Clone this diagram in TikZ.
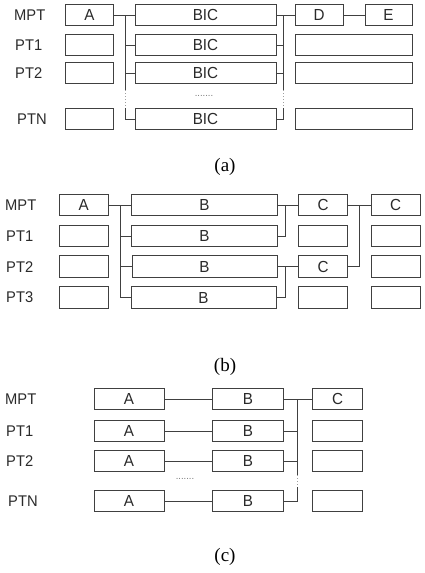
\documentclass[tikz,border=0pt]{standalone}
\usepackage{fontspec}
\setmainfont{Liberation Serif}
\newfontfamily\labfont[FakeStretch=0.95]{Liberation Sans}
\definecolor{ink}{HTML}{404040}
\definecolor{txt}{HTML}{2a2a2a}
\begin{document}
\begin{tikzpicture}[x=1pt,y=-1pt,
  box/.style={draw=ink,line width=1pt,rectangle,minimum height=21.5pt,inner sep=0pt,
    font=\labfont\fontsize{16}{16}\selectfont,text=txt},
  lab/.style={anchor=west,inner sep=0pt,font=\labfont\fontsize{15.5}{16}\selectfont,text=txt},
  captxt/.style={inner sep=0pt,font=\fontsize{19}{19}\selectfont,text=black},
  ln/.style={draw=ink,line width=1pt},
  dotln/.style={draw=ink!50,line width=1pt,dotted},
  dots/.style={inner sep=0pt,font=\labfont\fontsize{10}{10}\selectfont,text=ink!70}]
\useasboundingbox (0,0) rectangle (425,573);

% ---------------- (a)
\node[lab] (aL0) at (14,15) {MPT};
\node[lab] (aL1) at (15,45) {PT1};
\node[lab] (aL2) at (15,73) {PT2};
\node[lab] (aL3) at (17,119) {PTN};
\node[box,minimum width=47.5pt] (aA0) at (89.5,15) {A};
\foreach \i/\y in {1/45,2/73,3/119}{
  \node[box,minimum width=47.5pt] (aA\i) at (89.5,\y) {};
}
\foreach \i/\y in {0/15,1/45,2/73,3/119}{
  \node[box,minimum width=141pt] (aB\i) at (205.5,\y) {BIC};
}
\node[box,minimum width=48pt] (aD) at (319,15) {D};
\node[box,minimum width=47pt] (aE) at (388.5,15) {E};
\foreach \i/\y in {1/45,2/73,3/119}{
  \node[box,minimum width=117pt] (aR\i) at (353.5,\y) {};
}
\node[dots] (adots) at (204,96) {.......};
\coordinate (aLb) at (125,0);
\coordinate (aRb) at (283,0);
\coordinate (aLd1) at (125,90);
\coordinate (aLd2) at (125,108);
\coordinate (aRd1) at (283,90);
\coordinate (aRd2) at (283,108);
\draw[ln] (aA0.east) -- (aB0.west);
\draw[ln] (aB0.west -| aLb) -- (aLd1);
\draw[dotln] (aLd1) -- (aLd2);
\draw[ln] (aLd2) |- (aB3.west);
\draw[ln] (aB1.west -| aLb) -- (aB1.west);
\draw[ln] (aB2.west -| aLb) -- (aB2.west);
\draw[ln] (aB0.east) -- (aD.west);
\draw[ln] (aB0.east -| aRb) -- (aRd1);
\draw[dotln] (aRd1) -- (aRd2);
\draw[ln] (aRd2) |- (aB3.east);
\draw[ln] (aB1.east) -- (aB1.east -| aRb);
\draw[ln] (aB2.east) -- (aB2.east -| aRb);
\draw[ln] (aD.east) -- (aE.west);
\node[captxt] (capa) at (225,167) {(a)};

% ---------------- (b)
\node[lab] (bL0) at (5,205) {MPT};
\node[lab] (bL1) at (6,236) {PT1};
\node[lab] (bL2) at (6,266.7) {PT2};
\node[lab] (bL3) at (6,297.5) {PT3};
\node[box,minimum width=49pt] (bA0) at (83.7,205) {A};
\node[box,minimum width=145.5pt] (bB0) at (204.5,205) {B};
\node[box,minimum width=49pt] (bC0) at (323,205) {C};
\node[box,minimum width=49pt] (bD0) at (395.5,205) {C};
\node[box,minimum width=49pt] (bA1) at (83.7,236) {};
\node[box,minimum width=145.5pt] (bB1) at (204.5,236) {B};
\node[box,minimum width=49pt] (bC1) at (323,236) {};
\node[box,minimum width=49pt] (bD1) at (395.5,236) {};
\node[box,minimum width=49pt] (bA2) at (83.7,266.7) {};
\node[box,minimum width=145pt] (bB2) at (204.5,266.7) {B};
\node[box,minimum width=49pt] (bC2) at (323,266.7) {C};
\node[box,minimum width=49pt] (bD2) at (395.5,266.7) {};
\node[box,minimum width=49pt] (bA3) at (83.7,297.5) {};
\node[box,minimum width=145pt] (bB3) at (203.5,297.5) {B};
\node[box,minimum width=49pt] (bC3) at (323,297.5) {};
\node[box,minimum width=49pt] (bD3) at (395.5,297.5) {};
\coordinate (bLb) at (120,0);
\coordinate (bR1) at (285,0);
\coordinate (bR3) at (359,0);
\draw[ln] (bA0.east) -- (bB0.west);
\draw[ln] (bB0.west -| bLb) |- (bB3.west);
\draw[ln] (bB1.west -| bLb) -- (bB1.west);
\draw[ln] (bB2.west -| bLb) -- (bB2.west);
\draw[ln] (bB0.east) -- (bC0.west);
\draw[ln] (bB0.east -| bR1) |- (bB1.east);
\draw[ln] (bB2.east) -- (bC2.west);
\draw[ln] (bB2.east -| bR1) |- (bB3.east);
\draw[ln] (bC0.east) -- (bD0.west);
\draw[ln] (bC0.east -| bR3) |- (bC2.east);
\node[captxt] (capb) at (225,367) {(b)};

% ---------------- (c)
\node[lab] (cL0) at (5,399) {MPT};
\node[lab] (cL1) at (6,431) {PT1};
\node[lab] (cL2) at (6,461) {PT2};
\node[lab] (cL3) at (8,501) {PTN};
\foreach \i/\y in {0/399,1/431,2/461,3/501}{
  \node[box,minimum width=70pt] (cA\i) at (129,\y) {A};
  \node[box,minimum width=70.5pt] (cB\i) at (248,\y) {B};
  \draw[ln] (cA\i.east) -- (cB\i.west);
}
\node[box,minimum width=49.5pt] (cC0) at (337.5,399) {C};
\node[box,minimum width=49.5pt] (cC1) at (337.5,431) {};
\node[box,minimum width=49.5pt] (cC2) at (337.5,461) {};
\node[box,minimum width=49.5pt] (cC3) at (337.5,501) {};
\node[dots] (cdots) at (185,479) {.......};
\coordinate (cRb) at (297.5,0);
\coordinate (cd1) at (297.5,475);
\coordinate (cd2) at (297.5,487);
\draw[ln] (cB0.east) -- (cC0.west);
\draw[ln] (cB0.east -| cRb) -- (cd1);
\draw[dotln] (cd1) -- (cd2);
\draw[ln] (cd2) |- (cB3.east);
\draw[ln] (cB1.east) -- (cB1.east -| cRb);
\draw[ln] (cB2.east) -- (cB2.east -| cRb);
\node[captxt] (capc) at (225,557) {(c)};
\end{tikzpicture}
\end{document}
